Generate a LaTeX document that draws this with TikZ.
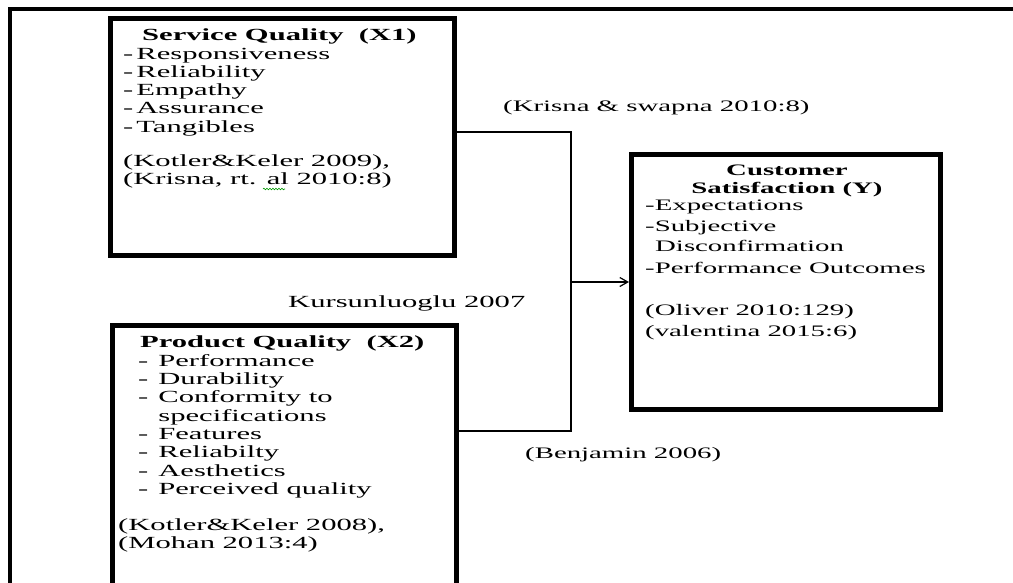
\documentclass[tikz,border=0pt]{standalone}
\usepackage{fontspec}
\setmainfont{Liberation Serif}[FakeStretch=1.8]
\usetikzlibrary{arrows.meta,decorations.pathmorphing}
\begin{document}
\begin{tikzpicture}[x=1pt,y=-1pt,
  box/.style={draw=black,line width=5pt,inner sep=0pt},
  txt/.style={anchor=base west,inner sep=0pt,font=\fontsize{17}{18}\selectfont},
  ttl/.style={txt,font=\fontsize{17}{18}\selectfont\bfseries},
  stxt/.style={txt,font=\fontsize{16}{18}\selectfont},
  sttl/.style={txt,font=\fontsize{16}{18}\selectfont\bfseries},
  conn/.style={draw=black,line width=1.2pt},
]
\useasboundingbox (0,0) rectangle (1013,582);
\clip (0,0) rectangle (1013,582);
\fill[white] (0,0) rectangle (1013,582);
% outer frame (partial)
\draw[line width=4pt] (10,700) -- (10,8.5) -- (1100,8.5);
% boxes
\node[box,minimum width=344pt,minimum height=237pt] (sq) at (282.5,137) {};
\node[box,minimum width=344pt,minimum height=314.5pt] (pq) at (284.5,482.75) {};
\node[box,minimum width=309pt,minimum height=255pt] (cs) at (786,282) {};
% service quality text
\node[ttl] (sqt) at (142,40.7) {Service Quality\ \ (X1)};
\node[txt] (sq1) at (123,59) {-\hspace{3pt}Responsiveness};
\node[txt] (sq2) at (123,77.3) {-\hspace{3pt}Reliability};
\node[txt] (sq3) at (123,95.6) {-\hspace{3pt}Empathy};
\node[txt] (sq4) at (123,113.9) {-\hspace{3pt}Assurance};
\node[txt] (sq5) at (123,132.2) {-\hspace{3pt}Tangibles};
\node[txt] (sqc1) at (123,166.5) {(Kotler\&Keler 2009),};
\node[txt] (sqc2) at (123,184.8) {(Krisna, rt. al 2010:8)};
\draw[green!60!black,line width=0.6pt,decorate,decoration={snake,amplitude=0.8pt,segment length=3pt}] (263,189) -- (285,189);
% product quality text
\node[ttl] (pqt) at (140,347.7) {Product Quality\ \ (X2)};
\node[txt] (pq1) at (138,366) {-\hspace{10pt}Performance};
\node[txt] (pq2) at (138,384.35) {-\hspace{10pt}Durability};
\node[txt] (pq3) at (138,402.7) {-\hspace{10pt}Conformity to};
\node[txt] (pq3b) at (158.2,421) {specifications};
\node[txt] (pq4) at (138,439.4) {-\hspace{10pt}Features};
\node[txt] (pq5) at (138,457.8) {-\hspace{10pt}Reliabilty};
\node[txt] (pq6) at (138,476.1) {-\hspace{10pt}Aesthetics};
\node[txt] (pq7) at (138,494.5) {-\hspace{10pt}Perceived quality};
\node[txt] (pqc1) at (118,530) {(Kotler\&Keler 2008),};
\node[txt] (pqc2) at (118,548.5) {(Mohan 2013:4)};
% customer satisfaction text
\node[sttl,anchor=base] (cst1) at (787,175.7) {Customer};
\node[sttl,anchor=base] (cst2) at (787,193.3) {Satisfaction (Y)};
\node[stxt] (cs1) at (645,210.7) {-Expectations};
\node[stxt] (cs2) at (645,231.7) {-Subjective};
\node[stxt] (cs2b) at (655,251.7) {Disconfirmation};
\node[stxt] (cs3) at (645,273.3) {-Performance Outcomes};
\node[stxt] (csc1) at (645,315) {(Oliver 2010:129)};
\node[stxt] (csc2) at (645,336) {(valentina 2015:6)};
% connector labels
\node[stxt] (l1) at (503,111.7) {(Krisna \& swapna 2010:8)};
\node[txt] (l2) at (288,307) {Kursunluoglu 2007};
\node[stxt] (l3) at (525,458.3) {(Benjamin 2006)};
% connectors
\coordinate (jt) at (571,132);
\coordinate (jb) at (571,431);
\coordinate (jm) at (571,282);
\draw[conn] (sq.east |- jt) -- (jt) -- (jb) -- (pq.east |- jb);
\draw[conn,-{Straight Barb[length=8pt,width=9pt]}] (jm) -- (cs.west);
\end{tikzpicture}
\end{document}
